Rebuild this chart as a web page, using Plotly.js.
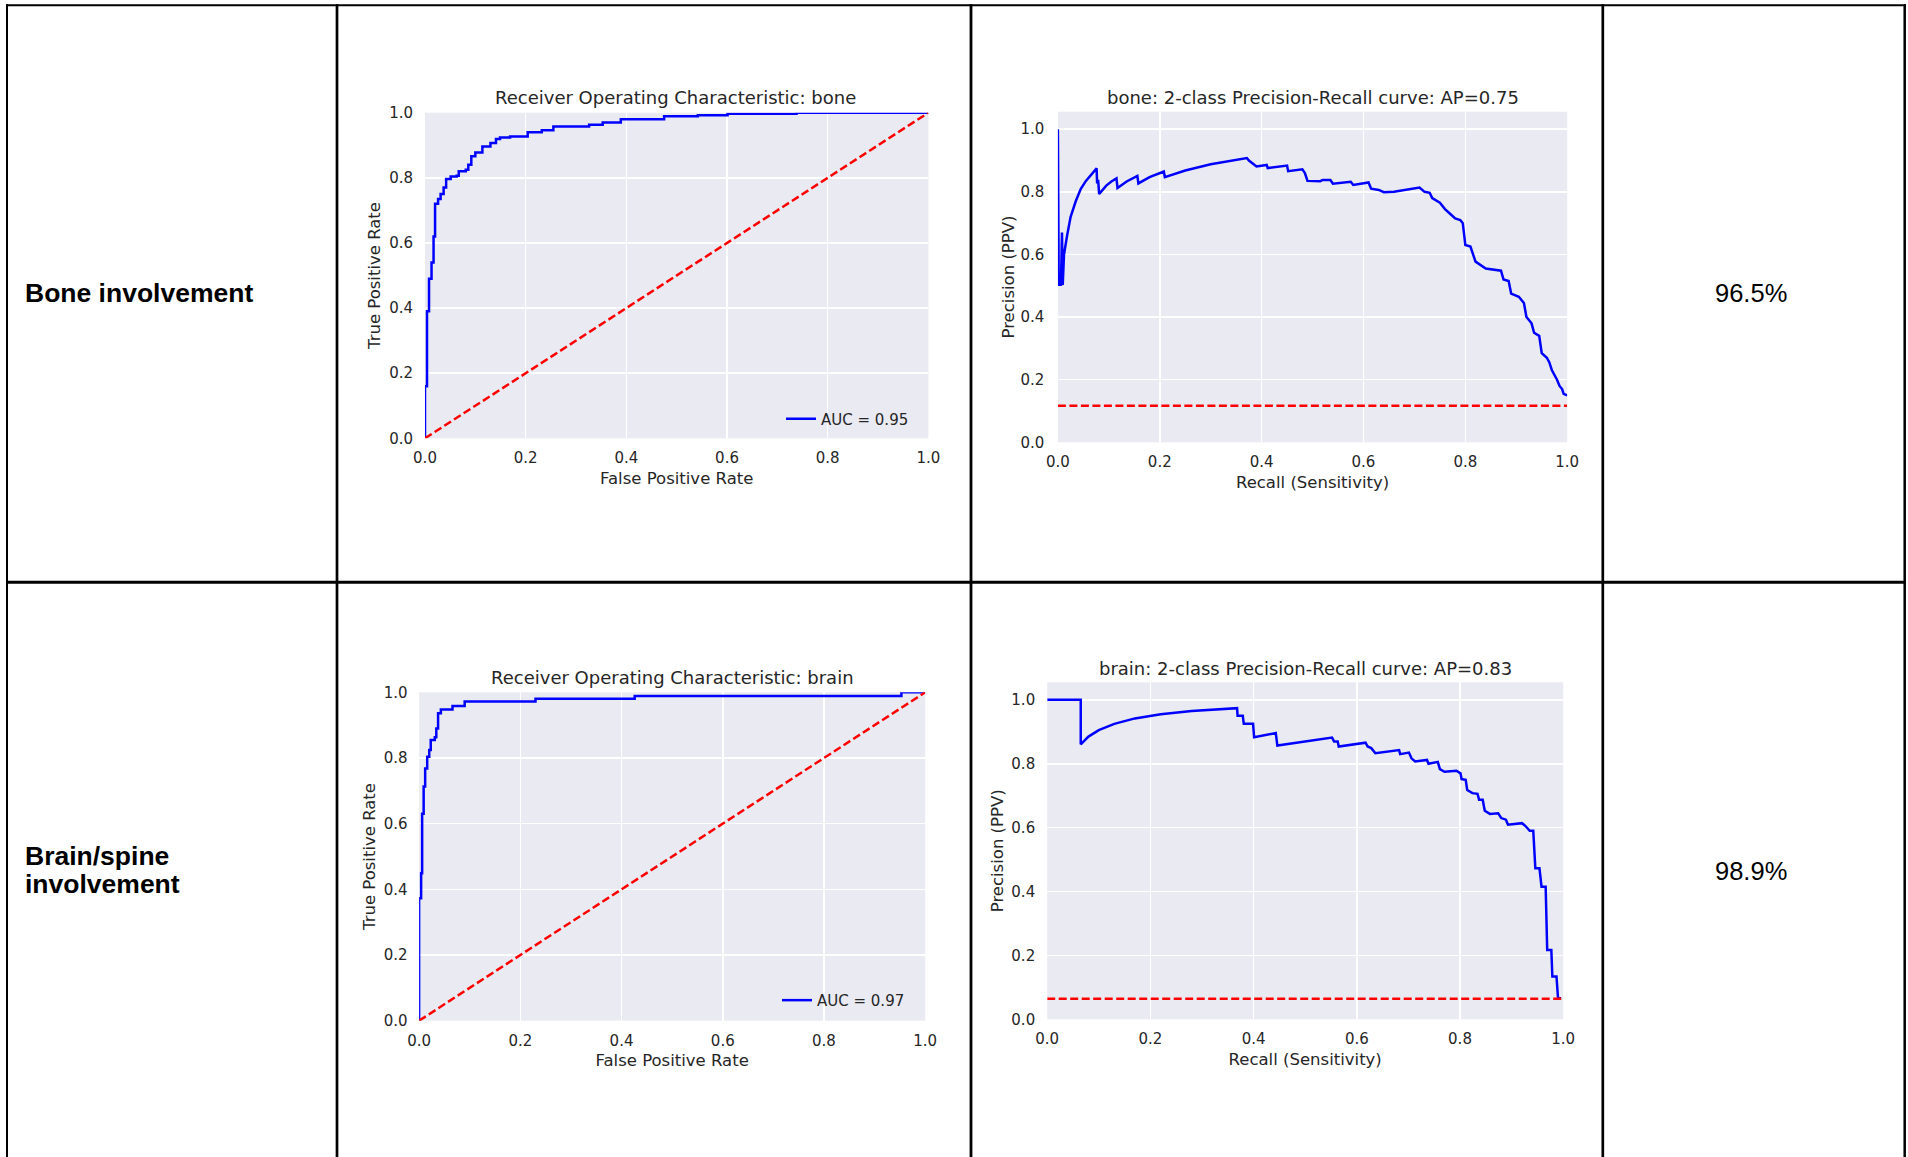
<!DOCTYPE html>
<html>
<head>
<meta charset="utf-8">
<script src="https://cdn.plot.ly/plotly-3.0.1.min.js"></script>
<style>
html,body{margin:0;padding:0;background:#ffffff;}
#chart{width:1908px;height:1157px;}
</style>
</head>
<body>
<div id="chart"></div>
<script>
// ---------------- data ----------------
const rowLabels = ["Bone involvement", ["Brain/spine", "involvement"]];
const accuracyValues = ["96.5%", "98.9%"];

const rocTitles = ["Receiver Operating Characteristic: bone", "Receiver Operating Characteristic: brain"];
const prTitles = ["bone: 2-class Precision-Recall curve: AP=0.75", "brain: 2-class Precision-Recall curve: AP=0.83"];
const aucLabels = ["AUC = 0.95", "AUC = 0.97"];
const tickVals = [0, 0.2, 0.4, 0.6, 0.8, 1.0];

const chanceX = [0, 1];
const chanceY = [0, 1];

const boneRocFpr = [0, 0, 0.004, 0.008, 0.013, 0.017, 0.020, 0.026, 0.031, 0.037, 0.042, 0.051, 0.063, 0.067, 0.081, 0.086, 0.092, 0.100, 0.114, 0.130, 0.141, 0.149, 0.169, 0.204, 0.232, 0.255, 0.326, 0.353, 0.389, 0.475, 0.542, 0.601, 0.738, 1.0];
const boneRocTpr = [0, 0.16, 0.39, 0.49, 0.54, 0.62, 0.72, 0.735, 0.75, 0.77, 0.796, 0.804, 0.806, 0.82, 0.825, 0.84, 0.866, 0.878, 0.896, 0.907, 0.919, 0.924, 0.927, 0.94, 0.946, 0.958, 0.963, 0.97, 0.98, 0.989, 0.992, 0.997, 1.0, 1.0];

const brainRocFpr = [0, 0, 0.004, 0.006, 0.009, 0.012, 0.016, 0.020, 0.023, 0.031, 0.034, 0.0375, 0.043, 0.066, 0.090, 0.230, 0.426, 0.953, 1.0];
const brainRocTpr = [0, 0.373, 0.449, 0.63, 0.713, 0.768, 0.804, 0.824, 0.855, 0.863, 0.89, 0.936, 0.948, 0.958, 0.972, 0.98, 0.989, 1.0, 1.0];

const bonePrRecall = [0, 0.0016, 0.006, 0.008, 0.0095, 0.012, 0.018, 0.025, 0.035, 0.045, 0.055, 0.065, 0.076, 0.077, 0.079, 0.081, 0.095, 0.105, 0.115, 0.117, 0.135, 0.156, 0.158, 0.18, 0.208, 0.210, 0.25, 0.30, 0.34, 0.371, 0.375, 0.383, 0.39, 0.41, 0.412, 0.45, 0.452, 0.48, 0.485, 0.49, 0.515, 0.52, 0.535, 0.54, 0.575, 0.58, 0.61, 0.615, 0.63, 0.64, 0.66, 0.71, 0.72, 0.73, 0.735, 0.75, 0.76, 0.77, 0.78, 0.79, 0.795, 0.80, 0.81, 0.82, 0.83, 0.84, 0.87, 0.875, 0.885, 0.89, 0.905, 0.915, 0.92, 0.93, 0.935, 0.945, 0.95, 0.96, 0.965, 0.97, 0.98, 0.985, 0.99, 0.993, 1.0];
const bonePrPrecision = [1.0, 0.503, 0.503, 0.67, 0.503, 0.60, 0.66, 0.72, 0.77, 0.81, 0.835, 0.855, 0.875, 0.827, 0.838, 0.793, 0.82, 0.833, 0.843, 0.812, 0.833, 0.851, 0.827, 0.847, 0.865, 0.847, 0.868, 0.888, 0.90, 0.908, 0.90, 0.891, 0.881, 0.886, 0.876, 0.884, 0.866, 0.872, 0.86, 0.835, 0.834, 0.838, 0.838, 0.826, 0.832, 0.822, 0.83, 0.81, 0.806, 0.799, 0.80, 0.814, 0.80, 0.797, 0.78, 0.765, 0.745, 0.73, 0.715, 0.71, 0.70, 0.63, 0.625, 0.577, 0.565, 0.555, 0.548, 0.52, 0.515, 0.475, 0.465, 0.445, 0.40, 0.38, 0.35, 0.34, 0.285, 0.27, 0.255, 0.23, 0.20, 0.18, 0.17, 0.155, 0.15];
const boneBaseline = 0.117;

const brainPrRecall = [0, 0.065, 0.065, 0.08, 0.10, 0.13, 0.17, 0.22, 0.28, 0.33, 0.368, 0.369, 0.379, 0.381, 0.399, 0.401, 0.443, 0.446, 0.552, 0.556, 0.563, 0.565, 0.617, 0.621, 0.628, 0.636, 0.682, 0.684, 0.701, 0.706, 0.713, 0.736, 0.739, 0.757, 0.761, 0.770, 0.793, 0.801, 0.803, 0.811, 0.814, 0.824, 0.834, 0.837, 0.844, 0.848, 0.858, 0.874, 0.88, 0.889, 0.893, 0.920, 0.927, 0.935, 0.942, 0.946, 0.954, 0.958, 0.966, 0.969, 0.977, 0.979, 0.987, 0.990, 0.996];
const brainPrPrecision = [1.0, 1.0, 0.861, 0.885, 0.905, 0.925, 0.942, 0.955, 0.965, 0.971, 0.974, 0.95, 0.95, 0.925, 0.925, 0.883, 0.896, 0.857, 0.882, 0.87, 0.87, 0.854, 0.866, 0.854, 0.849, 0.833, 0.843, 0.83, 0.835, 0.817, 0.807, 0.812, 0.80, 0.806, 0.783, 0.775, 0.778, 0.77, 0.752, 0.75, 0.718, 0.708, 0.706, 0.687, 0.687, 0.653, 0.643, 0.645, 0.63, 0.625, 0.609, 0.614, 0.605, 0.59, 0.59, 0.473, 0.473, 0.415, 0.415, 0.217, 0.217, 0.134, 0.134, 0.066, 0.066];
const brainBaseline = 0.064;

// ---------------- styling ----------------
const W = 1908, H = 1157;
const FONT = "DejaVu Sans";
const TABLE_FONT = "Liberation Sans, Arial, sans-serif";
const TXT = "#262626";
const BLUE = "#0000FF";
const RED = "#FF0000";
const px = v => v / W;
const py = v => 1 - v / H;

function xAxis(dom, anchor, title) {
  return {
    domain: [px(dom[0]), px(dom[1])], anchor: anchor, range: [0, 1],
    tickvals: tickVals, tickformat: ".1f",
    showgrid: true, gridcolor: "#ffffff", gridwidth: 1.5,
    zeroline: false, showline: false,
    ticks: "outside", ticklen: 6, tickcolor: "rgba(0,0,0,0)",
    tickfont: {family: FONT, size: 15, color: TXT},
    title: {text: title, font: {family: FONT, size: 16.5, color: TXT}, standoff: 5.5},
    fixedrange: true
  };
}
function yAxis(dom, anchor, top, title, tl, so) {
  return {
    domain: [py(dom[1]), py(dom[0])], anchor: anchor, range: [0, top],
    tickvals: tickVals, tickformat: ".1f",
    showgrid: true, gridcolor: "#ffffff", gridwidth: 1.5,
    zeroline: false, showline: false,
    ticks: "outside", ticklen: tl, tickcolor: "rgba(0,0,0,0)",
    tickfont: {family: FONT, size: 15, color: TXT},
    title: {text: title, font: {family: FONT, size: 16.5, color: TXT}, standoff: so},
    fixedrange: true
  };
}

const lineW = 2.5;
const dashStyle = "8px,3.5px";

const traces = [
  {x: boneRocFpr, y: boneRocTpr, xaxis: "x", yaxis: "y", mode: "lines", name: aucLabels[0],
   line: {color: BLUE, width: lineW, shape: "hv"}, legend: "legend"},
  {x: chanceX, y: chanceY, xaxis: "x", yaxis: "y", mode: "lines", showlegend: false,
   line: {color: RED, width: lineW, dash: dashStyle}},
  {x: bonePrRecall, y: bonePrPrecision, xaxis: "x2", yaxis: "y2", mode: "lines", showlegend: false,
   line: {color: BLUE, width: lineW}},
  {x: chanceX, y: [boneBaseline, boneBaseline], xaxis: "x2", yaxis: "y2", mode: "lines", showlegend: false,
   line: {color: RED, width: lineW, dash: dashStyle}},
  {x: brainRocFpr, y: brainRocTpr, xaxis: "x3", yaxis: "y3", mode: "lines", name: aucLabels[1],
   line: {color: BLUE, width: lineW, shape: "hv"}, legend: "legend2"},
  {x: chanceX, y: chanceY, xaxis: "x3", yaxis: "y3", mode: "lines", showlegend: false,
   line: {color: RED, width: lineW, dash: dashStyle}},
  {x: brainPrRecall, y: brainPrPrecision, xaxis: "x4", yaxis: "y4", mode: "lines", showlegend: false,
   line: {color: BLUE, width: lineW}},
  {x: chanceX, y: [brainBaseline, brainBaseline], xaxis: "x4", yaxis: "y4", mode: "lines", showlegend: false,
   line: {color: RED, width: lineW, dash: dashStyle}}
];

// table grid lines
function hline(y, x0, x1, w) {
  return {type: "line", xref: "paper", yref: "paper", x0: px(x0), x1: px(x1), y0: py(y), y1: py(y),
          line: {color: "#000000", width: w}, layer: "above"};
}
function vline(x, y0, y1, w) {
  return {type: "line", xref: "paper", yref: "paper", x0: px(x), x1: px(x), y0: py(y0), y1: py(y1),
          line: {color: "#000000", width: w}, layer: "above"};
}
const shapes = [
  hline(5.3, 6, 1906, 2),
  hline(582.3, 6, 1906, 3),
  vline(7, 4.3, 1170, 2),
  vline(337, 4.3, 1170, 2.7),
  vline(971, 4.3, 1170, 2.8),
  vline(1602.8, 4.3, 1170, 2.7),
  vline(1904.7, 4.3, 1170, 2.5)
];

function ann(text, x, y, size, opts) {
  return Object.assign({text: text, x: px(x), y: py(y), xref: "paper", yref: "paper",
    showarrow: false, xanchor: "center", yanchor: "middle", borderpad: 0,
    font: {family: FONT, size: size, color: TXT}}, opts || {});
}
const annotations = [
  ann(rocTitles[0], 675.7, 97.1, 18),
  ann(prTitles[0], 1312.6, 97.1, 18),
  ann(rocTitles[1], 672.2, 677.1, 18),
  ann(prTitles[1], 1305.2, 668.8, 18),
  ann("<b>" + rowLabels[0] + "</b>", 24, 292.8, 26.5, {xanchor: "left", font: {family: TABLE_FONT, size: 26.5, color: "#000000"}}),
  ann("<b>" + rowLabels[1][0] + "</b>", 24, 855.8, 26.5, {xanchor: "left", font: {family: TABLE_FONT, size: 26.5, color: "#000000"}}),
  ann("<b>" + rowLabels[1][1] + "</b>", 24, 884.1, 26.5, {xanchor: "left", font: {family: TABLE_FONT, size: 26.5, color: "#000000"}}),
  ann(accuracyValues[0], 1751, 293.2, 25.5, {font: {family: TABLE_FONT, size: 25.5, color: "#000000"}}),
  ann(accuracyValues[1], 1751, 871, 25.5, {font: {family: TABLE_FONT, size: 25.5, color: "#000000"}})
];

const legendBase = {
  xanchor: "left", yanchor: "top", bgcolor: "rgba(0,0,0,0)", borderwidth: 0,
  font: {family: FONT, size: 15, color: TXT}
};

const layout = {
  width: W, height: H,
  margin: {l: 0, r: 0, t: 0, b: 0, pad: 0},
  paper_bgcolor: "#ffffff",
  plot_bgcolor: "#EAEAF2",
  showlegend: true,
  xaxis: xAxis([425.0, 928.4], "y", "False Positive Rate"),
  yaxis: yAxis([112.7, 438.3], "x", 1.0, "True Positive Rate", 8, 3.8),
  xaxis2: xAxis([1057.9, 1567.2], "y2", "Recall (Sensitivity)"),
  yaxis2: yAxis([111.7, 442.3], "x2", 1.056, "Precision (PPV)", 9.5, 1.7),
  xaxis3: xAxis([419.1, 925.2], "y3", "False Positive Rate"),
  yaxis3: yAxis([692.3, 1020.7], "x3", 1.0, "True Positive Rate", 7.5, 3.7),
  xaxis4: xAxis([1047.2, 1563.2], "y4", "Recall (Sensitivity)"),
  yaxis4: yAxis([682.3, 1019.3], "x4", 1.055, "Precision (PPV)", 8, 2.8),
  legend: Object.assign({x: px(781), y: py(402.6)}, legendBase),
  legend2: Object.assign({x: px(777), y: py(983.9)}, legendBase),
  shapes: shapes,
  annotations: annotations
};

Plotly.newPlot("chart", traces, layout, {displayModeBar: false, staticPlot: true});
</script>
</body>
</html>
